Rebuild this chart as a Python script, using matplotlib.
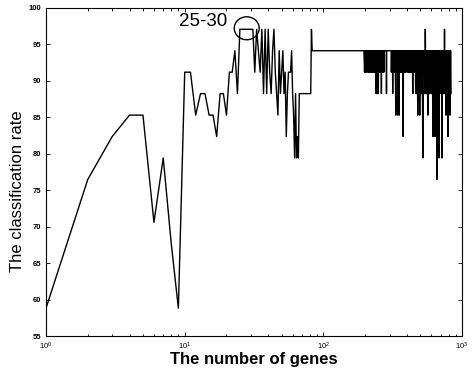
import matplotlib
matplotlib.use('Agg')
import matplotlib.pyplot as plt
from matplotlib.patches import Ellipse

# Tasa de clasificacion segun el numero de genes
genes_ini = list(range(1, 31))
tasa_ini = [58.82, 76.47, 82.35, 85.29, 85.29, 70.59, 79.41, 67.65, 58.82, 91.18,
            91.18, 85.29, 88.24, 88.24, 85.29, 85.29, 82.35, 88.24, 88.24, 85.29,
            91.18, 91.18, 94.12, 88.24, 97.06, 97.06, 97.06, 97.06, 97.06, 97.06]

genes_med = list(range(31, 68)) + [81, 82, 83, 196]
tasa_med = [97.06, 91.18, 97.06, 94.12, 91.18, 97.06, 88.24, 97.06, 88.24, 97.06,
            91.18, 88.24, 94.12, 97.06, 91.18, 88.24, 85.29, 94.12, 88.24, 91.18,
            94.12, 88.24, 91.18, 82.35, 88.24, 91.18, 91.18, 91.18, 94.12, 88.24,
            85.29, 79.41, 88.24, 79.41, 82.35, 79.41, 88.24,
            88.24, 97.06, 94.12, 94.12]

# Zona densa, primera parte (200-400 genes)
genes_den1 = [198, 200, 202, 204, 206, 208, 210, 211, 212, 215, 216, 219, 220,
              221, 222, 223, 224, 225, 226, 227, 228, 231, 232, 235, 236,
              237, 238, 240, 241, 242, 243, 244, 245, 246, 247, 249, 250, 251,
              253, 255, 257, 259, 261, 262, 263, 265, 267, 269, 271, 273, 275,
              284, 285, 286, 308,
              309, 311, 313, 315, 316, 317, 319, 321, 323, 325, 327, 329, 333,
              334, 336, 338, 340, 342, 344, 345, 347, 349, 352, 353, 356, 359,
              362, 365, 368, 371, 374, 376, 378, 381, 384, 387, 390, 394, 398]
tasa_den1 = [91.18, 94.12, 91.18, 94.12, 91.18, 94.12, 94.12, 91.18, 94.12, 91.18,
             94.12, 91.18, 94.12,
             91.18, 94.12, 91.18, 94.12, 91.18, 94.12, 91.18, 94.12, 91.18, 94.12,
             91.18, 94.12,
             91.18, 94.12, 88.24, 94.12, 91.18, 94.12, 88.24, 94.12, 91.18, 94.12,
             88.24, 94.12, 91.18, 94.12, 91.18, 94.12, 91.18, 94.12, 88.24, 94.12,
             91.18, 94.12, 91.18, 94.12, 91.18, 94.12,
             94.12, 88.24, 94.12, 94.12,
             91.18, 94.12, 91.18, 94.12, 88.24, 94.12, 91.18, 94.12, 91.18, 94.12,
             91.18, 94.12, 85.29, 94.12, 91.18, 94.12, 91.18, 94.12, 85.29, 94.12,
             91.18, 94.12, 85.29, 94.12, 91.18, 94.12, 91.18, 94.12, 91.18, 94.12,
             91.18, 82.35, 94.12, 91.18, 94.12, 91.18, 94.12, 91.18, 94.12]

# Zona densa, segunda parte (400-830 genes)
genes_den2 = [402, 405, 409, 412, 416, 419, 423, 426, 430, 433, 437, 441, 444,
              448, 452, 456, 459, 463, 467, 471, 475, 479, 483, 487, 491, 495,
              499, 504, 508, 512, 516, 521, 525, 530, 534, 539, 543, 548, 552,
              557, 561, 566, 571, 576, 580, 585, 590, 595, 600, 605, 610, 616,
              621, 626, 631, 637, 642, 647, 653, 658, 664, 670, 675, 681, 687,
              692, 698, 704, 710, 716, 722, 728, 734, 741, 747, 753, 759, 766,
              772, 779, 785, 792, 799, 805, 812, 819, 826, 833]
tasa_den2 = [94.12, 91.18, 94.12, 91.18, 94.12, 91.18, 94.12, 91.18, 94.12, 91.18,
             94.12, 88.24, 94.12, 91.18, 94.12, 91.18, 94.12, 88.24, 94.12, 88.24,
             94.12, 85.29, 94.12, 88.24, 94.12, 85.29, 94.12, 88.24, 94.12, 88.24,
             94.12, 79.41, 94.12, 91.18, 94.12, 88.24, 97.06, 88.24, 94.12, 88.24,
             94.12, 85.29, 94.12, 88.24, 94.12, 88.24, 94.12, 91.18, 94.12, 88.24,
             94.12, 82.35, 94.12, 88.24, 94.12, 82.35, 94.12, 88.24, 94.12, 76.47,
             94.12, 88.24, 94.12, 79.41, 94.12, 88.24, 94.12, 91.18, 94.12, 79.41,
             94.12, 88.24, 94.12, 88.24, 97.06, 88.24, 94.12, 85.29, 94.12, 88.24,
             94.12, 82.35, 94.12, 88.24, 94.12, 85.29, 94.12, 88.24]

genes = genes_ini + genes_med + genes_den1 + genes_den2
tasa = tasa_ini + tasa_med + tasa_den1 + tasa_den2

plt.rcParams['font.family'] = ['Liberation Sans', 'DejaVu Sans']

fig = plt.figure(figsize=(4.72, 3.74), dpi=100)
ax = fig.add_axes([0.0975, 0.1016, 0.8815, 0.8774])
ax.plot(genes, tasa, color='black', linewidth=1.0)
ax.set_xscale('log')
ax.set_xlim(1, 1000)
ax.set_ylim(55, 100)
ax.set_yticks(range(55, 101, 5))

ax.tick_params(which='both', direction='in', top=True, right=True,
               labelsize=5.5, width=0.6)
ax.tick_params(which='major', length=3)
ax.tick_params(which='minor', length=1.8)
for lbl in ax.get_yticklabels():
    lbl.set_fontweight('bold')
for s in ax.spines.values():
    s.set_linewidth(0.8)

ax.set_xlabel('The number of genes', fontsize=12, fontweight='bold')
ax.set_ylabel('The classification rate', fontsize=12)
ax.xaxis.set_label_coords(0.5, -0.05)
ax.yaxis.set_label_coords(-0.05, 0.44)

# Anotacion del rango 25-30
ax.text(13.5, 98.1, '25-30', fontsize=13.5, ha='center', va='center')
cx, cy = ax.transAxes.inverted().transform(ax.transData.transform((28, 97.2)))
ax.add_patch(Ellipse((cx, cy), 0.06, 0.07, transform=ax.transAxes,
                     fill=False, edgecolor='black', linewidth=1.0))

fig.savefig('out.png', dpi=100)
plt.close(fig)
